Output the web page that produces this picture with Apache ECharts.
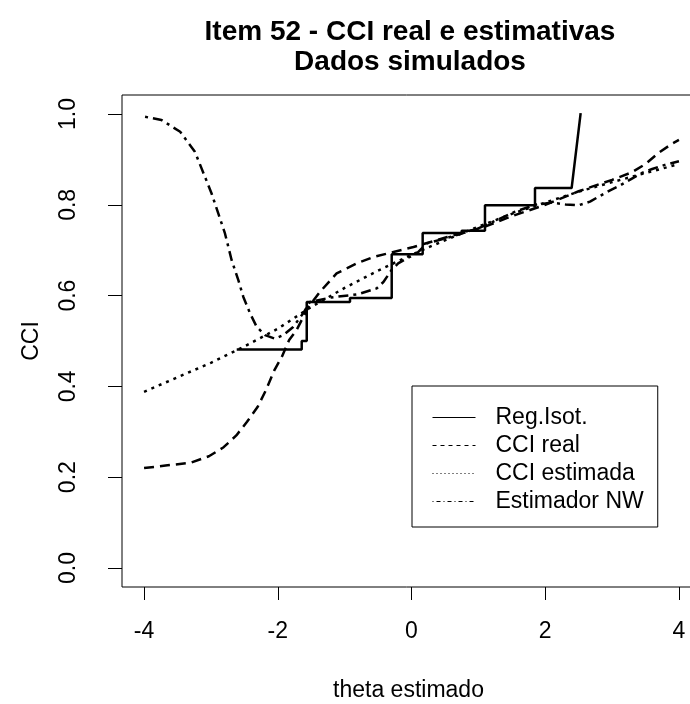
<!DOCTYPE html>
<html>
<head>
<meta charset="utf-8">
<script src="https://cdn.jsdelivr.net/npm/echarts@6/dist/echarts.min.js"></script>
<style>
  html, body { margin: 0; padding: 0; background: #fff; }
  #chart { width: 690px; height: 704px; }
</style>
</head>
<body>
<div id="chart"></div>
<script>
// Reg. isotonica (degraus)
const isoX = [-2.614, -1.642, -1.642, -1.567, -1.567, -0.92, -0.92, -0.296, -0.296, 0.167, 0.167, 0.75, 0.75, 1.099, 1.099, 1.847, 1.847, 2.395, 2.53]
const isoY = [0.481, 0.481, 0.500, 0.500, 0.586, 0.586, 0.595, 0.595, 0.691, 0.691, 0.738, 0.738, 0.743, 0.743, 0.799, 0.799, 0.837, 0.837, 1.002]

// CCI real
const realX = [-4, -3.65, -3.3, -3.03, -2.81, -2.62, -2.46, -2.3, -2.18, -2.05, -1.94, -1.83, -1.72, -1.54, -1.37, -1.12, -0.82, -0.57, -0.27, 0.03, 0.535, 1.08, 1.5, 2, 2.5, 3, 3.3, 3.5, 3.7, 3.9, 4]
const realY = [0.220, 0.226, 0.232, 0.246, 0.266, 0.292, 0.322, 0.355, 0.391, 0.436, 0.465, 0.502, 0.524, 0.575, 0.608, 0.649, 0.671, 0.685, 0.696, 0.707, 0.729, 0.751, 0.775, 0.800, 0.830, 0.855, 0.872, 0.890, 0.915, 0.935, 0.943]

// CCI estimada
const estX = [-4, -3.5, -3, -2.5, -2, -1.5, -1, -0.5, 0, 0.5, 1, 1.5, 2, 2.5, 3, 3.5, 4]
const estY = [0.388, 0.420, 0.452, 0.488, 0.527, 0.575, 0.617, 0.655, 0.690, 0.722, 0.752, 0.780, 0.805, 0.829, 0.850, 0.870, 0.890]

// Estimador NW
const nwX = [-3.985, -3.74, -3.46, -3.24, -3.09, -2.99, -2.89, -2.79, -2.69, -2.59, -2.515, -2.415, -2.315, -2.19, -2.04, -1.917, -1.77, -1.62, -1.52, -1.2, -0.8, -0.52, -0.42, -0.3, -0.2, -0.07, 0.08, 0.23, 0.6, 1.0, 1.3, 1.55, 1.85, 2.1, 2.3, 2.5, 2.67, 2.8, 2.97, 3.12, 3.31, 3.44, 3.6, 3.79, 4]
const nwY = [0.994, 0.987, 0.961, 0.917, 0.862, 0.825, 0.781, 0.737, 0.678, 0.634, 0.597, 0.561, 0.531, 0.513, 0.505, 0.513, 0.531, 0.561, 0.586, 0.596, 0.603, 0.616, 0.630, 0.656, 0.671, 0.682, 0.693, 0.715, 0.730, 0.748, 0.768, 0.785, 0.800, 0.805, 0.801, 0.799, 0.807, 0.818, 0.832, 0.843, 0.859, 0.870, 0.879, 0.888, 0.896]

const xTicks = [-4, -2, 0, 2, 4]
const yTicks = [0, 0.2, 0.4, 0.6, 0.8, 1.0]

const legendNames = ['Reg.Isot.', 'CCI real', 'CCI estimada', 'Estimador NW']

const FONT = '"Liberation Sans", Arial, sans-serif'

function pairs(xs, ys) {
  return xs.map((x, i) => [x, ys[i]])
}

function lineSeries(name, xs, ys, dash) {
  return {
    name: name,
    type: 'line',
    data: pairs(xs, ys),
    symbol: 'none',
    smooth: false,
    silent: true,
    color: '#000',
    lineStyle: { color: '#000', width: 2.5, type: dash }
  }
}

const chart = echarts.init(document.getElementById('chart'), null, { renderer: 'canvas' })

const option = {
  animation: false,
  backgroundColor: '#fff',
  title: {
    text: 'Item 52 - CCI real e estimativas\nDados simulados',
    left: 405,
    top: 12,
    textAlign: 'center',
    textStyle: {
      fontFamily: FONT,
      fontSize: 28,
      fontWeight: 'bold',
      color: '#000',
      lineHeight: 30
    }
  },
  legend: {
    orient: 'vertical',
    left: 412,
    top: 386,
    padding: [20, 14, 14, 20],
    itemGap: 5,
    itemWidth: 43,
    itemHeight: 14,
    borderColor: '#000',
    borderWidth: 1,
    borderRadius: 0,
    backgroundColor: '#fff',
    itemStyle: { opacity: 0 },
    textStyle: {
      fontFamily: FONT,
      fontSize: 23,
      color: '#000',
      lineHeight: 23,
      padding: [0, 0, 0, 15]
    },
    lineStyle: { width: 1 },
    data: [
      { name: legendNames[0], itemStyle: { opacity: 0 }, lineStyle: { type: 'solid', width: 1 } },
      { name: legendNames[1], itemStyle: { opacity: 0 }, lineStyle: { type: [4, 4], width: 1 } },
      { name: legendNames[2], itemStyle: { opacity: 0 }, lineStyle: { type: [1, 3], width: 1 } },
      { name: legendNames[3], itemStyle: { opacity: 0 }, lineStyle: { type: [1, 3, 4, 3], width: 1 } }
    ]
  },
  grid: {
    show: true,
    left: 122,
    top: 95,
    width: 579,
    height: 492,
    outerBoundsMode: 'none',
    containLabel: false,
    borderColor: '#000',
    borderWidth: 1,
    backgroundColor: 'transparent'
  },
  xAxis: {
    type: 'value',
    min: -4.33,
    max: 4.33,
    name: 'theta estimado',
    nameLocation: 'middle',
    nameGap: 92,
    nameTextStyle: { fontFamily: FONT, fontSize: 23, color: '#000', padding: [0, 6, 0, 0] },
    axisLine: { show: false, onZero: false },
    splitLine: { show: false },
    axisTick: {
      show: true,
      inside: false,
      length: 13,
      customValues: xTicks,
      lineStyle: { color: '#000', width: 1 }
    },
    axisLabel: {
      customValues: xTicks,
      margin: 33,
      fontFamily: FONT,
      fontSize: 23,
      color: '#000',
      formatter: v => String(v)
    }
  },
  yAxis: {
    type: 'value',
    min: -0.042,
    max: 1.042,
    name: 'CCI',
    nameLocation: 'middle',
    nameGap: 79,
    nameRotate: 90,
    nameTextStyle: { fontFamily: FONT, fontSize: 23, color: '#000' },
    axisLine: { show: false, onZero: false },
    splitLine: { show: false },
    axisTick: {
      show: true,
      inside: false,
      length: 14,
      customValues: yTicks,
      lineStyle: { color: '#000', width: 1 }
    },
    axisLabel: {
      customValues: yTicks,
      rotate: 90,
      margin: 42,
      fontFamily: FONT,
      fontSize: 23,
      color: '#000',
      formatter: v => v.toFixed(1)
    }
  },
  series: [
    lineSeries(legendNames[0], isoX, isoY, 'solid'),
    lineSeries(legendNames[1], realX, realY, [10, 6]),
    lineSeries(legendNames[2], estX, estY, [3, 5]),
    lineSeries(legendNames[3], nwX, nwY, [3, 5, 10, 5])
  ]
}

chart.setOption(option)
</script>
</body>
</html>
